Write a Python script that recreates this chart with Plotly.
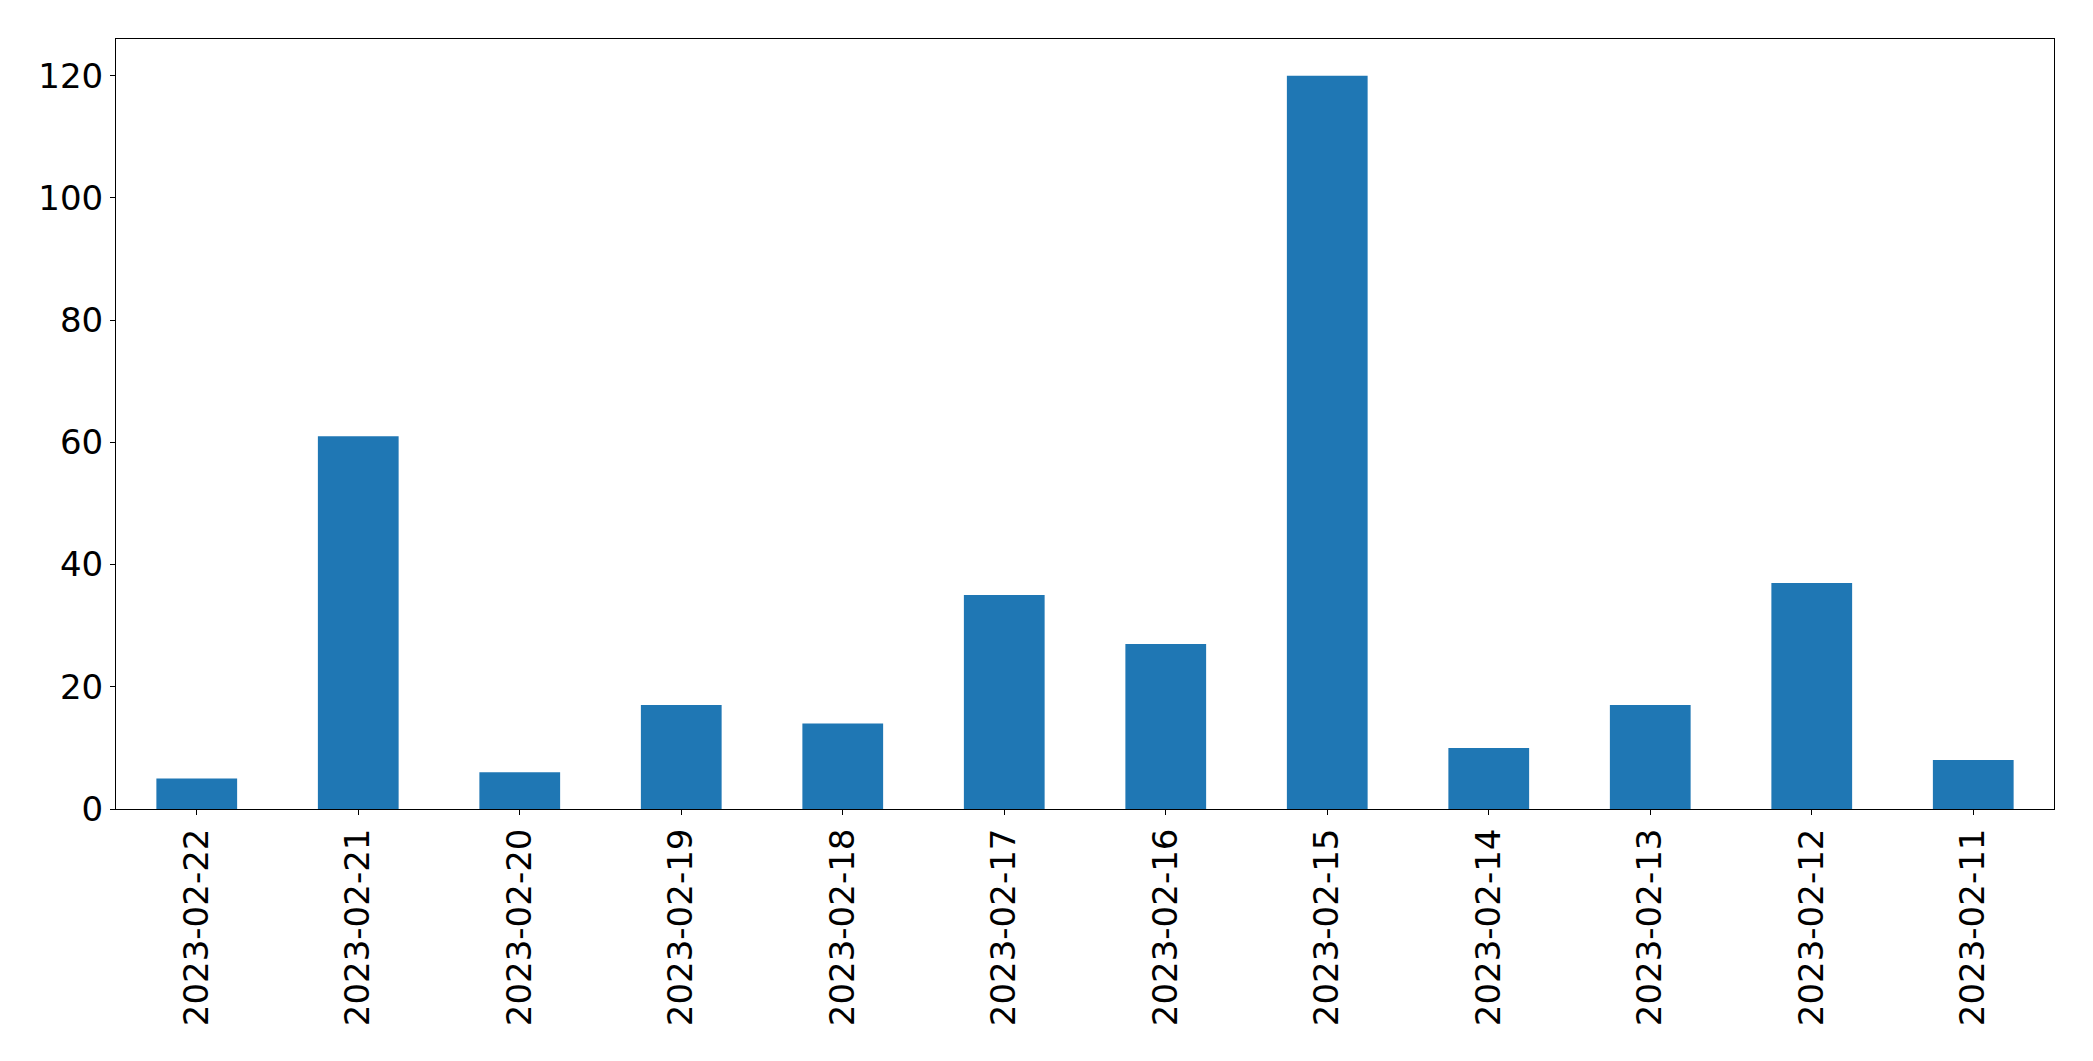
import plotly.graph_objects as go

dates = ["2023-02-22", "2023-02-21", "2023-02-20", "2023-02-19", "2023-02-18", "2023-02-17",
         "2023-02-16", "2023-02-15", "2023-02-14", "2023-02-13", "2023-02-12", "2023-02-11"]
counts = [5, 61, 6, 17, 14, 35, 27, 120, 10, 17, 37, 8]
y_ticks = [0, 20, 40, 60, 80, 100, 120]

fig = go.Figure(go.Bar(x=dates, y=counts, width=0.5, marker=dict(color="#1f77b4", line=dict(width=0))))

font = dict(family="DejaVu Sans", size=34, color="black")
fig.update_layout(
    width=2093, height=1061,
    margin=dict(l=108, r=47, t=31, b=260),
    plot_bgcolor="white", paper_bgcolor="white",
    showlegend=False,
    font=font,
)
fig.update_xaxes(type="category", range=[-0.5, 11.5], tickangle=-90,
                 showline=True, mirror=True, linecolor="black", linewidth=1,
                 ticks="outside", ticklen=5, tickcolor="black", showgrid=False,
                 tickfont=font)
fig.update_yaxes(range=[0, 126], tickvals=y_ticks,
                 showline=True, mirror=True, linecolor="black", linewidth=1,
                 ticks="outside", ticklen=5, tickcolor="black", showgrid=False,
                 zeroline=False, tickfont=font)

fig.write_html("out.html")
